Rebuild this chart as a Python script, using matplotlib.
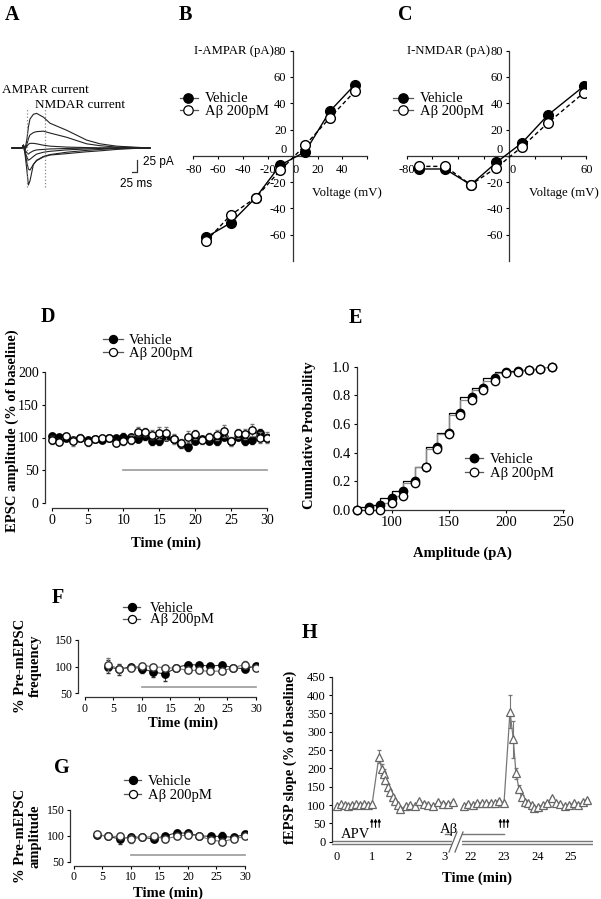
import matplotlib
matplotlib.use("Agg")
import matplotlib.pyplot as plt
from matplotlib.lines import Line2D
from matplotlib.ticker import FormatStrFormatter

# ---------------- data ----------------
# A: example current traces at several holding potentials (time in ms, current in pA)
trace_t = [10, 60, 67, 75, 85, 92, 100, 117, 133, 167, 200, 283, 383, 450, 533, 617, 700]
trace_p40 = [0, 0, 6, -3, 20, 45, 62, 72, 74, 66, 53, 38, 17, 9, 4, 2, 0]
trace_p20 = [0, 0, 6, -3, 8, 20, 28, 33, 35, 36, 32, 23, 9, 5, 2, 1, 0]
trace_0 = [0, 0, 6, -3, 4, 8, 10, 10, 9, 6, 4, 2, 1, 0, 0, 0, 0]
trace_m20 = [0, 0, 6, -5, -10, -13, -10, -6, -4, -3, -2, -1, 0, 0, 0, 0, 0]
trace_m40 = [0, 0, 6, -8, -20, -26, -24, -18, -13, -9, -7, -4, -2, -1, 0, 0, 0]
trace_m60 = [0, 0, 6, -10, -32, -45, -47, -35, -26, -18, -14, -9, -5, -3, -1, 0, 0]
trace_m80 = [0, 0, 6, -12, -50, -79, -70, -35, -27, -19, -15, -12, -8, -6, -3, -1, 0]

# B: AMPAR I-V
ampa_volt = [-70, -50, -30, -10, 10, 30, 50]
ampa_veh = [-62, -51, -32, -7, 3, 34, 54]
ampa_ab = [-65, -45, -32, -11, 8, 29, 49]

# C: NMDAR I-V
nmda_volt = [-70, -50, -30, -10, 10, 30, 58]
nmda_veh = [-10, -10, -22, -5, 10, 31, 53]
nmda_ab = [-8, -8, -22, -9, 7, 25, 48]

# D: EPSC amplitude time course
d_time = list(range(0, 31))
d_veh = [103, 101.5, 100, 96.5, 100, 96.5, 97.5, 96.5, 100, 100, 101.5, 101.5, 97.5, 102.5, 94, 94,
         101.5, 97, 90.5, 85, 94, 98, 95, 94, 101.5, 94, 101.5, 94, 95.5, 107.5, 100]
d_ab = [96.5, 93, 102.5, 94, 100, 92.5, 97.5, 100, 100, 91.5, 94, 96.5, 109, 109, 104, 106.5,
        106.5, 97.5, 91.5, 101.5, 105, 95.5, 101.5, 104, 110, 94, 106.5, 105, 111.5, 100, 100]
d_veh_sem = [4, 3, 3, 4, 3, 4, 3, 4, 3, 3, 5, 4, 4, 6, 5, 5, 5, 5, 6, 5, 4, 4, 5, 5, 5, 5, 5, 5, 5, 6, 5]
d_ab_sem = [6, 5, 4, 7, 5, 5, 5, 4, 4, 5, 6, 7, 7, 6, 7, 9, 10, 8, 6, 8, 7, 6, 6, 8, 9, 7, 7, 8, 9, 8, 8]

# E: cumulative amplitude distribution
e_amp = [70, 80, 90, 100, 110, 120, 130, 140, 150, 160, 170, 180, 190, 200, 210, 220, 230, 240]
e_veh = [0, 0.02, 0.035, 0.085, 0.13, 0.20, 0.30, 0.44, 0.54, 0.68, 0.79, 0.85, 0.92, 0.965,
         0.97, 0.98, 0.985, 1.0]
e_ab = [0, 0, 0, 0.047, 0.10, 0.19, 0.30, 0.425, 0.53, 0.66, 0.77, 0.84, 0.90, 0.955,
        0.96, 0.975, 0.985, 1.0]

# F / G: mEPSC frequency and amplitude
fg_time = [4, 6, 8, 10, 12, 14, 16, 18, 20, 22, 24, 26, 28, 30]
f_veh = [100, 95, 100, 96, 90, 86, 98, 104, 103, 101, 103, 98, 96, 101]
f_ab = [104, 96, 97, 102, 100, 98, 97, 93, 93, 91, 92, 98, 104, 97]
f_veh_sem = [12, 10, 4, 8, 10, 12, 3, 4, 3, 3, 4, 4, 4, 4]
f_ab_sem = [12, 8, 5, 5, 4, 3, 3, 3, 3, 3, 3, 3, 6, 4]
g_veh = [102, 99, 94, 98, 97, 94, 100, 106, 105, 100, 99, 99, 97, 103]
g_ab = [103, 99, 99, 94, 97, 99, 94, 99, 102, 100, 92, 89, 94, 99]
g_veh_sem = [4, 3, 10, 5, 3, 4, 3, 5, 4, 3, 4, 8, 3, 3]
g_ab_sem = [4, 3, 6, 8, 3, 4, 5, 3, 3, 3, 5, 4, 4, 3]

# H: fEPSP slope, before (0-3 min) and after (22-25 min) the break
h_t1 = [0.0, 0.11, 0.22, 0.33, 0.44, 0.55, 0.66, 0.77, 0.88, 0.99,
        1.18, 1.26, 1.31, 1.36, 1.44, 1.50, 1.56, 1.63, 1.70, 1.77,
        1.94, 2.05, 2.19, 2.31, 2.44, 2.56, 2.70, 2.84, 2.96, 3.12, 3.26]
h_v1 = [97, 102, 100, 98, 101, 104, 100, 104, 101, 103,
        232, 198, 185, 168, 148, 135, 122, 110, 100, 88,
        98, 100, 96, 111, 104, 100, 96, 109, 104, 103, 109]
h_e1 = [2] * 10 + [17, 15, 12, 10, 8, 6, 5, 4, 4, 3] + [3] * 11
h_t2 = [21.80, 21.93, 22.06, 22.20, 22.33, 22.46, 22.60, 22.73, 22.86, 23.00,
        23.18, 23.28, 23.36, 23.45, 23.53, 23.63, 23.73, 23.83, 23.91, 24.03,
        24.16, 24.28, 24.43, 24.56, 24.68, 24.83, 24.96, 25.10, 25.23, 25.38, 25.50]
h_v2 = [97, 103, 100, 105, 106, 105, 106, 106, 112, 105,
        355, 279, 186, 145, 121, 109, 105, 100, 91, 95,
        100, 105, 118, 105, 102, 98, 100, 105, 100, 109, 114]
h_e2 = [3] * 10 + [45, 50, 15, 10, 6, 5, 4, 4, 3, 3] + [3] * 11

# ---------------- figure ----------------
plt.rcParams['font.family'] = ['Liberation Serif', 'DejaVu Serif']
plt.rcParams['axes.unicode_minus'] = False
plt.rcParams['axes.linewidth'] = 0.9
plt.rcParams['axes.edgecolor'] = '#333333'

W, H = 601, 899
fig = plt.figure(figsize=(W / 100, H / 100), dpi=100)


def add_ax(x0, y0, x1, y1):
    # axes from pixel box (origin top-left)
    return fig.add_axes([x0 / W, 1 - y1 / H, (x1 - x0) / W, (y1 - y0) / H])


def ftext(x, y, s, **kw):
    kw.setdefault('ha', 'center')
    kw.setdefault('va', 'center')
    return fig.text(x / W, 1 - y / H, s, **kw)


def flegend(xm, xl0, xl1, xt, y1, y2, ms):
    for yy, face, lab in ((y1, 'black', 'Vehicle'), (y2, 'white', 'A\u03b2 200pM')):
        fig.add_artist(Line2D([xl0 / W, xl1 / W], [1 - yy / H] * 2, color='#555555', lw=0.9))
        fig.add_artist(Line2D([xm / W], [1 - yy / H], marker='o', ms=ms, mfc=face,
                              mec='black', mew=0.9, ls='none'))
        ftext(xt, yy, lab, fontsize=10.5, ha='left', va='center_baseline')


def bold(x, y, s, rot=0, size=10.5, **kw):
    ftext(x, y, s, fontsize=size, fontweight='bold', rotation=rot, **kw)


def clean(ax):
    ax.spines['top'].set_visible(False)
    ax.spines['right'].set_visible(False)
    ax.tick_params(direction='out', length=2.5, width=0.8, pad=2)


# panel letters
for lx, ly, lt in ((12, 15, 'A'), (185, 15, 'B'), (405, 15, 'C'), (48, 317, 'D'),
                   (355, 318, 'E'), (58, 598, 'F'), (62, 768, 'G'), (309, 633, 'H')):
    bold(lx, ly, lt, size=14.5)

# ---- A ----
axA = add_ax(0, 60, 175, 200)
axA.set_xlim(-50, 825)
axA.set_ylim(-111, 188)
axA.axis('off')
for tr in (trace_p40, trace_p20, trace_0, trace_m20, trace_m40, trace_m60, trace_m80):
    axA.plot(trace_t, tr, color='#222222', lw=0.8)
axA.plot([83, 83], [-83, 85], ls=':', color='#888888', lw=0.9)
axA.plot([175, 175], [-83, 87], ls=':', color='#888888', lw=0.9)
axA.plot([610, 635, 635], [-51, -51, -26], color='#333333', lw=0.9)
ftext(2, 90, 'AMPAR current', fontsize=9.5, ha='left')
ftext(35, 105, 'NMDAR current', fontsize=9.5, ha='left')
ftext(143, 162, '25 pA', family='Liberation Sans', fontsize=8.5, ha='left')
ftext(120, 184, '25 ms', family='Liberation Sans', fontsize=8.5, ha='left')


# ---- B, C ----
def iv_panel(ax, volt, veh, ab, xlabels):
    ax.plot(volt, veh, '-o', color='black', lw=1, ms=7, mfc='black', mec='black', zorder=3)
    ax.plot(volt, ab, '--o', color='black', lw=1, ms=7, mfc='white', mec='black',
            dashes=(3, 2), zorder=4)
    ax.set_xlim(-80, 60)
    ax.set_ylim(-80, 80)
    clean(ax)
    ax.spines['left'].set_position(('data', 0))
    ax.spines['bottom'].set_position(('data', 0))
    ax.set_xticks(range(-80, 61, 20))
    ax.set_xticklabels(xlabels)
    ax.set_yticks(range(-60, 81, 20))
    ax.tick_params(labelsize=9)
    ax.tick_params(axis='x', pad=3.5)
    ax.get_xticklabels()[4].set_ha('left')
    ax.get_yticklabels()[3].set_va('bottom')


axB = add_ax(193.5, 50.7, 367.1, 261)
iv_panel(axB, ampa_volt, ampa_veh, ampa_ab, ['-80', '-60', '-40', '-20', '0', '20', '40', ''])
ftext(274, 51, 'I-AMPAR (pA)', fontsize=9.2, ha='right')
ftext(312, 193, 'Voltage (mV)', fontsize=9.2, ha='left')
flegend(188, 180, 198, 205, 97.5, 110, 6.8)

axC = add_ax(406.5, 50.7, 586.4, 261)
iv_panel(axC, nmda_volt, nmda_veh, nmda_ab, ['-80', '', '', '', '0', '', '', '60'])
ftext(490, 51, 'I-NMDAR (pA)', fontsize=9.2, ha='right')
ftext(529, 193, 'Voltage (mV)', fontsize=9.2, ha='left')
flegend(403, 393, 413, 420, 97.5, 110, 6.8)

# ---- D ----
axD = add_ax(45, 371.7, 268.9, 503.3)
axD.errorbar(d_time, d_veh, yerr=d_veh_sem, fmt='-o', color='#333333', lw=0.8, ms=5.3,
             mfc='black', mec='black', elinewidth=0.7, capsize=1.5, zorder=3)
axD.errorbar(d_time, d_ab, yerr=d_ab_sem, fmt='-o', color='#777777', lw=0.8, ms=5.3,
             mfc='white', mec='black', elinewidth=0.7, capsize=1.5, zorder=4)
axD.plot([10, 30], [50, 50], color='#999999', lw=1.2)
axD.set_xlim(-0.93, 30.3)
axD.set_ylim(0, 200)
clean(axD)
axD.spines['bottom'].set_position(('outward', 3.4))
axD.spines['bottom'].set_bounds(0, 30)
axD.set_xticks(range(0, 31, 5))
axD.set_yticks(range(0, 201, 50))
axD.tick_params(labelsize=10)
bold(12, 431, 'EPSC amplitude (% of baseline)', rot=90)
bold(166, 543, 'Time (min)')
flegend(113, 103, 123, 129, 338.5, 352, 5.8)

# ---- E ----
axE = add_ax(356.7, 366.7, 564.4, 510)
axE.plot(e_amp, e_veh, drawstyle='steps-pre', color='black', lw=0.9)
axE.plot(e_amp, e_ab, drawstyle='steps-pre', color='#888888', lw=0.9)
axE.plot(e_amp, e_veh, 'o', ms=6, mfc='black', mec='black', clip_on=False, zorder=3)
axE.plot(e_amp, e_ab, 'o', ms=6, mfc='white', mec='black', clip_on=False, zorder=4)
axE.set_xlim(69.4, 251)
axE.set_ylim(0, 1.0)
clean(axE)
axE.set_xticks([100, 150, 200, 250])
axE.set_yticks([0, 0.2, 0.4, 0.6, 0.8, 1.0])
axE.yaxis.set_major_formatter(FormatStrFormatter('%.1f'))
axE.tick_params(labelsize=10.5)
bold(310, 435, 'Cumulative Probability', rot=90)
bold(462, 553, 'Amplitude (pA)')
flegend(474, 465, 483, 490, 458.3, 471.7, 6.2)


# ---- F, G ----
def mini_panel(ax, veh, ab, veh_sem, ab_sem, xlim, bar_y):
    ax.errorbar(fg_time, veh, yerr=veh_sem, fmt='-o', color='#333333', lw=0.8, ms=5.3,
                mfc='black', mec='black', elinewidth=0.7, capsize=1.5, zorder=3)
    ax.errorbar(fg_time, ab, yerr=ab_sem, fmt='-o', color='#777777', lw=0.8, ms=5.3,
                mfc='white', mec='#333333', elinewidth=0.7, capsize=1.5, zorder=4)
    ax.plot([10, 30], [bar_y, bar_y], color='#999999', lw=1.2)
    ax.set_xlim(*xlim)
    ax.set_ylim(50, 150)
    clean(ax)
    ax.spines['bottom'].set_position(('outward', 3))
    ax.spines['bottom'].set_bounds(0, 30)
    ax.set_xticks(range(0, 31, 5))
    ax.set_yticks([50, 100, 150])
    ax.tick_params(labelsize=8.5, pad=1.5)


axF = add_ax(78.3, 640, 257.7, 693.3)
mini_panel(axF, f_veh, f_ab, f_veh_sem, f_ab_sem, (-1.17, 30.3), 61)
bold(28, 666, '% Pre-mEPSC\nfrequency', rot=90, linespacing=1.15, multialignment='center')
bold(183, 723, 'Time (min)')
flegend(131.7, 123, 140, 150, 606.7, 618.5, 5.8)

axG = add_ax(70, 810, 246.7, 861.7)
mini_panel(axG, g_veh, g_ab, g_veh_sem, g_ab_sem, (-0.7, 30.3), 62)
bold(28, 836, '% Pre-mEPSC\namplitude', rot=90, linespacing=1.15, multialignment='center')
bold(168, 893, 'Time (min)')
flegend(132.7, 124, 141, 148, 780, 794.3, 5.8)

# ---- H (broken time axis) ----
axH1 = add_ax(332, 674.9, 452, 849)
axH2 = add_ax(462, 674.9, 593, 849)
for ax, t, v, e, xl, xt in ((axH1, h_t1, h_v1, h_e1, (-0.131, 3.223), [0, 1, 2, 3]),
                            (axH2, h_t2, h_v2, h_e2, (21.739, 25.673), [22, 23, 24, 25])):
    ax.errorbar(t, v, yerr=e, fmt='-^', color='#777777', lw=0.9, ms=6, mfc='white',
                mec='#666666', mew=0.9, elinewidth=0.8, capsize=1.5, clip_on=False)
    ax.axhline(3, color='#777777', lw=1)
    ax.axhline(-6, color='#777777', lw=1)
    ax.set_xlim(*xl)
    ax.set_ylim(-20, 455)
    ax.set_xticks(xt)
    for s in ('top', 'right', 'bottom'):
        ax.spines[s].set_visible(False)
    ax.tick_params(axis='x', length=0, pad=1.5, labelsize=9)
    ax.tick_params(axis='y', direction='out', length=2.5, width=0.8, pad=2, labelsize=9)
axH1.spines['left'].set_bounds(0, 450)
axH1.set_yticks(range(0, 451, 50))
axH2.spines['left'].set_visible(False)
axH2.set_yticks([])
axH1.plot([3.03, 3.223], [21, 21], color='#777777', lw=1)
axH2.plot([21.739, 23.0], [21, 21], color='#777777', lw=1)
for ax, xc, dx in ((axH1, 1.085, 0.103), (axH2, 23.0, 0.11)):
    for k in (-1, 0, 1):
        ax.annotate('', xy=(xc + k * dx, 63), xytext=(xc + k * dx, 39),
                    arrowprops=dict(arrowstyle='-|>', color='black', lw=0.8,
                                    mutation_scale=4, shrinkA=0, shrinkB=0))
for bx in (449, 455):
    fig.add_artist(Line2D([bx / W, (bx + 8) / W], [1 - 852 / H, 1 - 832 / H],
                          color='#666666', lw=0.9))
ftext(356, 835, 'APV', fontsize=10.5)
ftext(449, 830, 'A\u03b2', fontsize=10.5)
bold(290, 757, 'fEPSP slope (% of baseline)', rot=90)
bold(477, 878, 'Time (min)')

fig.savefig('out.png', dpi=100, facecolor='white')
